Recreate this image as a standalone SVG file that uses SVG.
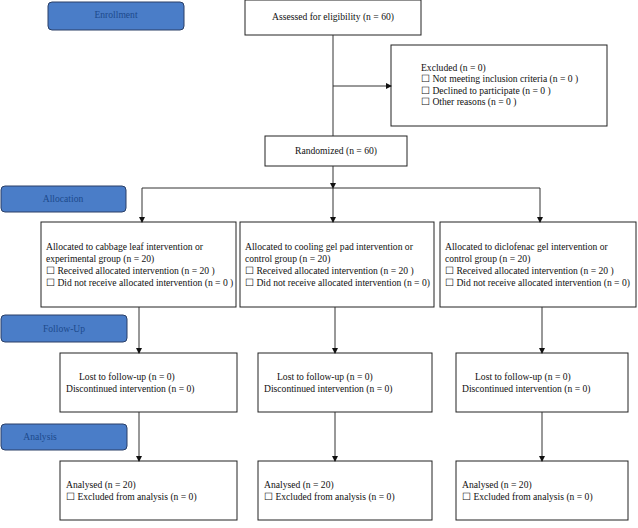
<svg xmlns="http://www.w3.org/2000/svg" width="638" height="528" viewBox="0 0 638 528">
<style>
.b{fill:#fff;stroke:#222;stroke-width:1}
.p{fill:#4a7dc8;stroke:#2a3f66;stroke-width:1}
text{font-family:"Liberation Serif",serif;font-size:9.6px;fill:#111}
.pl{fill:#1d4a8c;text-anchor:middle}
.c{stroke:#333;stroke-width:1;fill:none}
</style>
<defs><marker id="a" markerWidth="6" markerHeight="6" refX="5" refY="3" orient="auto"><path d="M0,0L6,3L0,6z" fill="#111"/></marker></defs>
<g id="enrollment"><rect class="p" x="48" y="2" width="136" height="28" rx="4"/><text class="pl" x="116" y="18">Enrollment</text></g>
<g id="allocation"><rect class="p" x="1" y="186" width="125" height="26" rx="4"/><text class="pl" x="63" y="202">Allocation</text></g>
<g id="followup"><rect class="p" x="1" y="315" width="126" height="27" rx="4"/><text class="pl" x="64" y="332">Follow-Up</text></g>
<g id="analysis"><rect class="p" x="1" y="424" width="126" height="26" rx="4"/><text class="pl" x="40" y="440">Analysis</text></g>
<g id="assessed"><rect class="b" x="245" y="0" width="176" height="35"/><text x="333" y="20" text-anchor="middle">Assessed for eligibility (n = 60)</text></g>
<g id="excluded"><rect class="b" x="391" y="45" width="216" height="81"/>
<text x="421" y="71">Excluded (n = 0)</text><text x="421" y="82">☐ Not meeting inclusion criteria (n = 0 )</text><text x="421" y="94">☐ Declined to participate (n = 0 )</text><text x="421" y="105">☐ Other reasons (n = 0 )</text></g>
<g id="randomized"><rect class="b" x="265" y="136" width="142" height="30"/><text x="336" y="154" text-anchor="middle">Randomized (n = 60)</text></g>
<g id="alloc1"><rect class="b" x="41" y="222" width="195" height="85"/>
<text x="46" y="250">Allocated to cabbage leaf intervention or</text><text x="46" y="262">experimental group (n = 20)</text><text x="46" y="274">☐ Received allocated intervention (n = 20 )</text><text x="46" y="286">☐ Did not receive allocated intervention (n = 0 )</text></g>
<g id="alloc2"><rect class="b" x="240" y="222" width="194" height="85"/>
<text x="245" y="250">Allocated to cooling gel pad intervention or</text><text x="245" y="262">control group (n = 20)</text><text x="245" y="274">☐ Received allocated intervention (n = 20 )</text><text x="245" y="286">☐ Did not receive allocated intervention (n = 0)</text></g>
<g id="alloc3"><rect class="b" x="440" y="222" width="196" height="85"/>
<text x="445" y="250">Allocated to diclofenac gel intervention or</text><text x="445" y="262">control group (n = 20)</text><text x="445" y="274">☐ Received allocated intervention (n = 20 )</text><text x="445" y="286">☐ Did not receive allocated intervention (n = 0)</text></g>
<g id="lost1"><rect class="b" x="60" y="353" width="177" height="59"/><text x="79" y="380">Lost to follow-up (n = 0)</text><text x="66" y="392">Discontinued intervention (n = 0)</text></g>
<g id="lost2"><rect class="b" x="258" y="353" width="174" height="59"/><text x="277" y="380">Lost to follow-up (n = 0)</text><text x="264" y="392">Discontinued intervention (n = 0)</text></g>
<g id="lost3"><rect class="b" x="456" y="353" width="172" height="59"/><text x="475" y="380">Lost to follow-up (n = 0)</text><text x="462" y="392">Discontinued intervention (n = 0)</text></g>
<g id="an1"><rect class="b" x="60" y="461" width="177" height="59"/><text x="66" y="488">Analysed (n = 20)</text><text x="66" y="500">☐ Excluded from analysis (n = 0)</text></g>
<g id="an2"><rect class="b" x="258" y="461" width="174" height="59"/><text x="264" y="488">Analysed (n = 20)</text><text x="264" y="500">☐ Excluded from analysis (n = 0)</text></g>
<g id="an3"><rect class="b" x="456" y="461" width="172" height="59"/><text x="462" y="488">Analysed (n = 20)</text><text x="462" y="500">☐ Excluded from analysis (n = 0)</text></g>
<g id="connectors">
<path class="c" d="M333,35V136"/>
<path class="c" d="M333,86H391" marker-end="url(#a)"/>
<path class="c" d="M333,166V188" marker-end="url(#a)"/>
<path class="c" d="M142,188H540"/>
<path class="c" d="M142,188V222" marker-end="url(#a)"/>
<path class="c" d="M333,188V222" marker-end="url(#a)"/>
<path class="c" d="M540,188V222" marker-end="url(#a)"/>
<path class="c" d="M139,307V353" marker-end="url(#a)"/>
<path class="c" d="M335,307V353" marker-end="url(#a)"/>
<path class="c" d="M542,307V353" marker-end="url(#a)"/>
<path class="c" d="M139,412V461" marker-end="url(#a)"/>
<path class="c" d="M335,412V461" marker-end="url(#a)"/>
<path class="c" d="M542,412V461" marker-end="url(#a)"/>
</g>
</svg>
